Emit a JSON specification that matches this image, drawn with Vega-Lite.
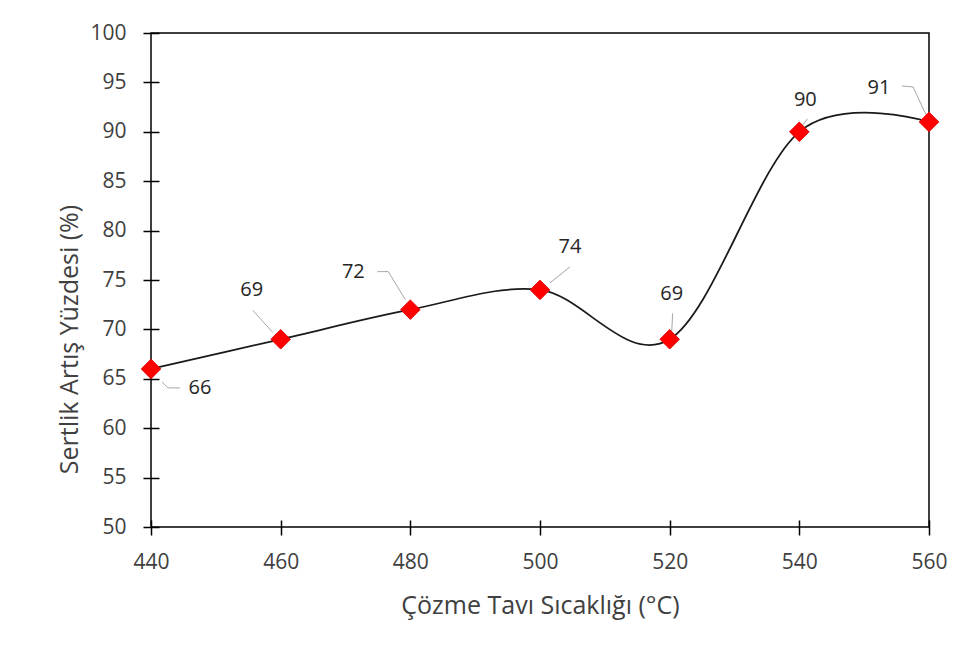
{
  "$schema": "https://vega.github.io/schema/vega-lite/v6.json",
  "autosize": {"type": "none"},
  "padding": {"left": 151, "top": 33, "right": 42, "bottom": 132},
  "width": 778,
  "height": 494,
  "background": "white",
  "config": {
    "view": {"stroke": "#000000", "strokeWidth": 1.5},
    "font": "Open Sans",
    "axis": {
      "grid": false,
      "domain": false,
      "labelFlush": false,
      "labelOverlap": false,
      "tickColor": "#000000",
      "tickWidth": 1.5,
      "labelColor": "#404040",
      "labelFont": "Open Sans",
      "labelFontSize": 21,
      "titleColor": "#404040",
      "titleFont": "Open Sans",
      "titleFontSize": 25,
      "titleFontWeight": "normal"
    }
  },
  "data": {
    "values": [
      {"T": 440, "V": 66},
      {"T": 460, "V": 69},
      {"T": 480, "V": 72},
      {"T": 500, "V": 74},
      {"T": 520, "V": 69},
      {"T": 540, "V": 90},
      {"T": 560, "V": 91}
    ]
  },
  "encoding": {
    "x": {
      "field": "T", "type": "quantitative",
      "scale": {"domain": [440, 560], "nice": false, "zero": false},
      "axis": {
        "title": "Çözme Tavı Sıcaklığı (°C)",
        "values": [440, 460, 480, 500, 520, 540, 560],
        "offset": -7, "tickSize": 15, "labelPadding": 16,
        "titleBaseline": "alphabetic", "titleY": 93
      }
    },
    "y": {
      "field": "V", "type": "quantitative",
      "scale": {"domain": [50, 100], "nice": false, "zero": false},
      "axis": {
        "title": "Sertlik Artış Yüzdesi (%)",
        "values": [50, 55, 60, 65, 70, 75, 80, 85, 90, 95, 100],
        "offset": -8, "tickSize": 16, "labelPadding": 17,
        "titleBaseline": "alphabetic", "titleX": -82, "titleY": 306
      }
    }
  },
  "layer": [
    {"mark": {"type": "line", "interpolate": "cardinal", "tension": 0, "color": "#1a1a1a", "strokeWidth": 1.75}},
    {"transform": [{"filter": "datum.T == 440"}], "mark": {"type": "rule", "color": "#a6a6a6", "strokeWidth": 1, "xOffset": 11, "yOffset": 13, "x2Offset": 17, "y2Offset": 19}, "encoding": {"x2": {"field": "T"}, "y2": {"field": "V"}}},
    {"transform": [{"filter": "datum.T == 440"}], "mark": {"type": "rule", "color": "#a6a6a6", "strokeWidth": 1, "xOffset": 17, "yOffset": 19, "x2Offset": 29, "y2Offset": 19}, "encoding": {"x2": {"field": "T"}, "y2": {"field": "V"}}},
    {"transform": [{"filter": "datum.T == 460"}], "mark": {"type": "rule", "color": "#a6a6a6", "strokeWidth": 1, "xOffset": -8, "yOffset": -7, "x2Offset": -28, "y2Offset": -29}, "encoding": {"x2": {"field": "T"}, "y2": {"field": "V"}}},
    {"transform": [{"filter": "datum.T == 480"}], "mark": {"type": "rule", "color": "#a6a6a6", "strokeWidth": 1, "xOffset": -5, "yOffset": -10, "x2Offset": -22, "y2Offset": -38}, "encoding": {"x2": {"field": "T"}, "y2": {"field": "V"}}},
    {"transform": [{"filter": "datum.T == 480"}], "mark": {"type": "rule", "color": "#a6a6a6", "strokeWidth": 1, "xOffset": -22, "yOffset": -38, "x2Offset": -33, "y2Offset": -38}, "encoding": {"x2": {"field": "T"}, "y2": {"field": "V"}}},
    {"transform": [{"filter": "datum.T == 500"}], "mark": {"type": "rule", "color": "#a6a6a6", "strokeWidth": 1, "xOffset": 10, "yOffset": -7, "x2Offset": 30, "y2Offset": -23}, "encoding": {"x2": {"field": "T"}, "y2": {"field": "V"}}},
    {"transform": [{"filter": "datum.T == 520"}], "mark": {"type": "rule", "color": "#a6a6a6", "strokeWidth": 1, "xOffset": 2, "yOffset": -7, "x2Offset": 3, "y2Offset": -26}, "encoding": {"x2": {"field": "T"}, "y2": {"field": "V"}}},
    {"transform": [{"filter": "datum.T == 540"}], "mark": {"type": "rule", "color": "#a6a6a6", "strokeWidth": 1, "xOffset": 3, "yOffset": -6, "x2Offset": 8, "y2Offset": -13}, "encoding": {"x2": {"field": "T"}, "y2": {"field": "V"}}},
    {"transform": [{"filter": "datum.T == 560"}], "mark": {"type": "rule", "color": "#a6a6a6", "strokeWidth": 1, "xOffset": -2, "yOffset": -5, "x2Offset": -16, "y2Offset": -35}, "encoding": {"x2": {"field": "T"}, "y2": {"field": "V"}}},
    {"transform": [{"filter": "datum.T == 560"}], "mark": {"type": "rule", "color": "#a6a6a6", "strokeWidth": 1, "xOffset": -16, "yOffset": -35, "x2Offset": -27, "y2Offset": -36}, "encoding": {"x2": {"field": "T"}, "y2": {"field": "V"}}},
    {"mark": {"type": "point", "shape": "diamond", "filled": true, "size": 380, "fill": "#ff0000", "stroke": "#e60000", "strokeWidth": 1, "opacity": 1}},
    {"transform": [{"filter": "datum.T == 440"}], "mark": {"type": "text", "fontSize": 20, "color": "#262626", "align": "center", "baseline": "middle", "dx": 49, "dy": 19}, "encoding": {"text": {"field": "V"}}},
    {"transform": [{"filter": "datum.T == 460"}], "mark": {"type": "text", "fontSize": 20, "color": "#262626", "align": "center", "baseline": "middle", "dx": -29, "dy": -49}, "encoding": {"text": {"field": "V"}}},
    {"transform": [{"filter": "datum.T == 480"}], "mark": {"type": "text", "fontSize": 20, "color": "#262626", "align": "center", "baseline": "middle", "dx": -57, "dy": -38}, "encoding": {"text": {"field": "V"}}},
    {"transform": [{"filter": "datum.T == 500"}], "mark": {"type": "text", "fontSize": 20, "color": "#262626", "align": "center", "baseline": "middle", "dx": 30, "dy": -43}, "encoding": {"text": {"field": "V"}}},
    {"transform": [{"filter": "datum.T == 520"}], "mark": {"type": "text", "fontSize": 20, "color": "#262626", "align": "center", "baseline": "middle", "dx": 2, "dy": -45}, "encoding": {"text": {"field": "V"}}},
    {"transform": [{"filter": "datum.T == 540"}], "mark": {"type": "text", "fontSize": 20, "color": "#262626", "align": "center", "baseline": "middle", "dx": 6, "dy": -32}, "encoding": {"text": {"field": "V"}}},
    {"transform": [{"filter": "datum.T == 560"}], "mark": {"type": "text", "fontSize": 20, "color": "#262626", "align": "center", "baseline": "middle", "dx": -50, "dy": -34}, "encoding": {"text": {"field": "V"}}}
  ]
}
